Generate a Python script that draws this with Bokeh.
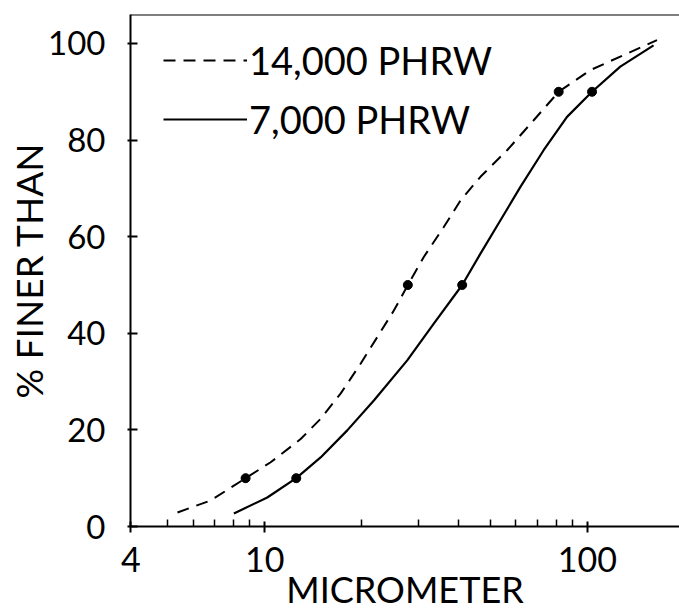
from bokeh.plotting import figure
from bokeh.models import FixedTicker, Range1d, Legend, LegendItem, Span
from bokeh.embed import file_html
from bokeh.resources import INLINE

# ---- data ----
x_ticks = [3.85, 10, 100]
x_tick_labels = ["4", "10", "100"]
x_minor_ticks = [5, 6, 7, 8, 9, 20, 30, 40, 50, 60, 70, 80, 90]
y_ticks = [0, 20, 40, 60, 80, 100]

series_names = ["14,000 PHRW", "7,000 PHRW"]

size_14k = [5.37, 6.81, 8.73, 10.44, 12.93, 14.91, 17.19, 19.83, 22.33, 25.14, 27.78,
            31.13, 35.90, 40.45, 46.64, 56.41, 68.19, 81.5, 102.2, 132.7, 164.4]
pct_14k = [2.9, 5.4, 10.0, 13.3, 18.1, 22.3, 27.5, 33.7, 39.2, 44.7, 50.0,
           55.8, 62.0, 67.5, 72.4, 77.9, 84.1, 90.0, 94.5, 97.9, 100.7]

size_7k = [8.03, 10.19, 12.53, 14.91, 18.03, 21.8, 27.66, 33.43, 40.94, 46.64,
           53.8, 62.03, 73.2, 86.5, 103.4, 126.5, 160.4]
pct_7k = [2.7, 6.0, 10.0, 14.3, 19.9, 26.1, 34.4, 42.0, 50.0, 56.5,
          63.4, 70.3, 77.9, 84.8, 90.0, 95.2, 99.6]

dots_14k_x = [8.73, 27.78, 81.5]
dots_14k_y = [10, 50, 90]
dots_7k_x = [12.53, 40.94, 103.4]
dots_7k_y = [10, 50, 90]

FONT = "Lato"

p = figure(width=679, height=614, x_axis_type="log",
           x_range=Range1d(3.84, 193), y_range=Range1d(0, 106),
           output_backend="svg", toolbar_location=None,
           min_border_left=130, min_border_right=0,
           min_border_top=14, min_border_bottom=88)
p.outline_line_color = None
p.grid.visible = False
p.background_fill_color = "white"
p.border_fill_color = "white"

# x axis
xa = p.xaxis[0]
xa.ticker = FixedTicker(ticks=x_ticks, minor_ticks=x_minor_ticks)
xa.major_label_overrides = dict(zip(x_ticks, x_tick_labels))
xa.axis_line_width = 2
xa.major_tick_line_width = 2
xa.minor_tick_line_width = 1.5
xa.major_tick_in = 5
xa.major_tick_out = 6
xa.minor_tick_in = 7
xa.minor_tick_out = 0
xa.major_label_standoff = 14
xa.major_label_text_font = FONT
xa.major_label_text_font_size = "34px"
xa.major_label_text_color = "black"
xa.axis_label = "MICROMETER"
xa.axis_label_standoff = -8
xa.axis_label_text_font = FONT
xa.axis_label_text_font_size = "36px"
xa.axis_label_text_font_style = "normal"
xa.axis_label_text_color = "black"

# y axis
ya = p.yaxis[0]
ya.ticker = FixedTicker(ticks=y_ticks, minor_ticks=[])
ya.axis_line_width = 2
ya.major_tick_line_width = 2
ya.major_tick_in = 7
ya.major_tick_out = 3
ya.minor_tick_in = 0
ya.minor_tick_out = 0
ya.major_label_standoff = 22
ya.major_label_text_font = FONT
ya.major_label_text_font_size = "33px"
ya.major_label_text_color = "black"
ya.axis_label = "% FINER THAN"
ya.axis_label_standoff = -6
ya.axis_label_text_font = FONT
ya.axis_label_text_font_size = "37px"
ya.axis_label_text_font_style = "normal"
ya.axis_label_text_color = "black"

# top border
p.add_layout(Span(location=106, dimension="width", line_color="black", line_width=2))

# curves
r14 = p.line(size_14k, pct_14k, line_color="black", line_width=2, line_dash="12 8")
r7 = p.line(size_7k, pct_7k, line_color="black", line_width=2.2)
p.scatter(dots_14k_x, dots_14k_y, size=9, color="black")
p.scatter(dots_7k_x, dots_7k_y, size=9, color="black")

legend = Legend(items=[LegendItem(label=series_names[0], renderers=[r14]),
                       LegendItem(label=series_names[1], renderers=[r7])],
                location=(33, 384), glyph_width=84, glyph_height=46,
                label_height=46, spacing=13, padding=0, margin=0,
                border_line_color=None, background_fill_alpha=0,
                label_text_font=FONT, label_text_font_size="38px",
                label_text_color="black", label_standoff=2)
p.add_layout(legend)

open("out.html", "w").write(file_html(p, INLINE))
